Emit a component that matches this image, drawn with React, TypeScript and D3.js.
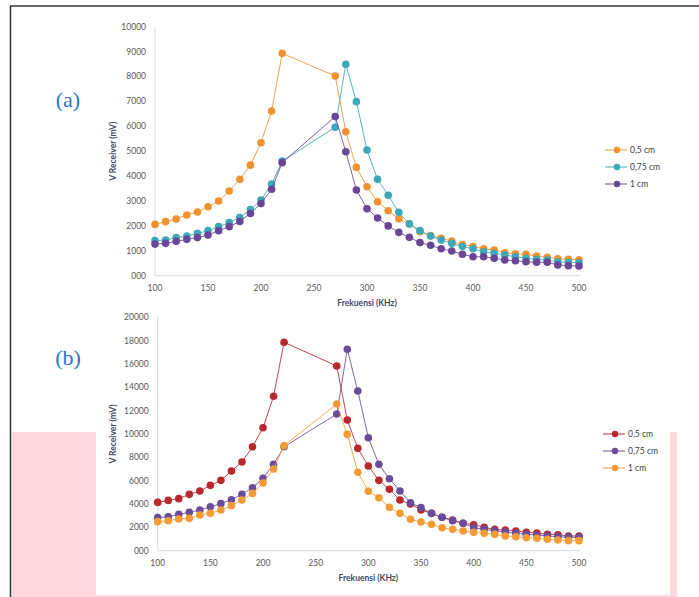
import React from "react";
import * as d3 from "d3";

const freq = [100, 110, 120, 130, 140, 150, 160, 170, 180, 190, 200, 210, 220, 270, 280, 290, 300, 310, 320, 330, 340, 350, 360, 370, 380, 390, 400, 410, 420, 430, 440, 450, 460, 470, 480, 490, 500];

const topSeriesNames = ["0,5 cm", "0,75 cm", "1 cm"];
const topA05 = [2060, 2170, 2280, 2440, 2560, 2770, 3000, 3400, 3870, 4440, 5340, 6610, 8930, 8020, 5780, 4350, 3570, 2970, 2610, 2290, 2080, 1770, 1610, 1500, 1390, 1250, 1170, 1080, 1030, 920, 880, 860, 790, 740, 680, 660, 640];
const topA075 = [1410, 1430, 1530, 1590, 1700, 1810, 1970, 2130, 2340, 2660, 3040, 3680, 4600, 5960, 8490, 6990, 5050, 3870, 3230, 2550, 2080, 1810, 1590, 1430, 1300, 1170, 1080, 960, 900, 830, 760, 700, 660, 630, 560, 540, 520];
const topA1 = [1270, 1300, 1380, 1460, 1530, 1630, 1810, 1970, 2180, 2500, 2900, 3470, 4540, 6390, 4980, 3440, 2690, 2320, 2000, 1740, 1540, 1330, 1220, 1080, 990, 860, 760, 760, 700, 630, 600, 560, 540, 540, 430, 400, 390];

const botSeriesNames = ["0,5 cm", "0,75 cm", "1 cm"];
const botB05 = [4140, 4310, 4460, 4830, 5110, 5600, 6030, 6830, 7600, 8900, 10540, 13230, 17860, 15830, 11200, 8770, 7260, 6030, 5260, 4340, 4000, 3490, 3200, 2860, 2630, 2350, 2230, 2000, 1830, 1770, 1690, 1580, 1520, 1400, 1370, 1260, 1260];
const botB075 = [2830, 2910, 3110, 3290, 3490, 3770, 4030, 4370, 4830, 5400, 6200, 7400, 8910, 11710, 17260, 13680, 9680, 7400, 6170, 5120, 4110, 3690, 3200, 2860, 2570, 2350, 1970, 1830, 1710, 1600, 1490, 1400, 1350, 1260, 1200, 1150, 1150];
const botB1 = [2490, 2570, 2710, 2770, 3060, 3200, 3490, 3860, 4340, 4910, 5800, 7000, 9000, 12570, 9970, 6720, 5090, 4540, 3720, 3200, 2690, 2460, 2260, 1970, 1830, 1690, 1580, 1490, 1400, 1260, 1200, 1110, 1060, 980, 920, 860, 860];

const xTicks = [100, 150, 200, 250, 300, 350, 400, 450, 500];
const topYTicks = [0, 1000, 2000, 3000, 4000, 5000, 6000, 7000, 8000, 9000, 10000];
const botYTicks = [0, 2000, 4000, 6000, 8000, 10000, 12000, 14000, 16000, 18000, 20000];

const topColors = ["#f0932f", "#3ea8b8", "#6a4796"];
const botColors = ["#b8282e", "#6b4c9a", "#f39c35"];

const FONT = "Lato, 'Noto Sans', sans-serif";

function fmtTick(v: number) {
  return v === 0 ? "000" : String(v);
}

type ChartProps = {
  x0: number;
  x1: number;
  yBottom: number;
  yTop: number;
  yMax: number;
  yTicks: number[];
  series: number[][];
  names: string[];
  colors: string[];
  legendX: number;
  legendY: number;
  legendStep: number;
  yTitleX: number;
  xLabelY: number;
  xTitleY: number;
};

function Chart(p: ChartProps) {
  const x = d3.scaleLinear().domain([100, 500]).range([p.x0, p.x1]);
  const y = d3.scaleLinear().domain([0, p.yMax]).range([p.yBottom, p.yTop]);
  const line = d3
    .line<number>()
    .x((_, i) => x(freq[i]))
    .y((d) => y(d));
  return (
    <g>
      <line x1={p.x0} x2={p.x1 + 1} y1={p.yBottom} y2={p.yBottom} stroke="#d5dce6" strokeWidth={1} />
      <line x1={p.x0} x2={p.x0} y1={p.yTop} y2={p.yBottom} stroke="#d5dce6" strokeWidth={1} />
      {p.yTicks.map((t) => (
        <text key={t} x={p.x0 - 9} y={y(t)} dy="0.35em" textAnchor="end" fontSize={8.5} fill="#595959" fontFamily={FONT}>
          {fmtTick(t)}
        </text>
      ))}
      {xTicks.map((t) => (
        <text key={t} x={x(t)} y={p.xLabelY} dy="0.35em" textAnchor="middle" fontSize={8.5} fill="#595959" fontFamily={FONT}>
          {t}
        </text>
      ))}
      <text x={(p.x0 + p.x1) / 2} y={p.xTitleY} dy="0.35em" textAnchor="middle" fontSize={8.5} fontWeight={700} fill="#3f4a63" fontFamily={FONT}>
        Frekuensi (KHz)
      </text>
      <text
        transform={`translate(${p.yTitleX},${(p.yTop + p.yBottom) / 2}) rotate(-90)`}
        dy="0.35em"
        textAnchor="middle"
        fontSize={8.5}
        fontWeight={700}
        fill="#3f4a63"
        fontFamily={FONT}
      >
        V Receiver (mV)
      </text>
      {p.series.map((s, si) => (
        <g key={si}>
          <path d={line(s) || ""} fill="none" stroke={p.colors[si]} strokeWidth={1} strokeOpacity={0.85} />
          {s.map((v, i) => (
            <circle key={i} cx={x(freq[i])} cy={y(v)} r={3.8} fill={p.colors[si]} />
          ))}
        </g>
      ))}
      {p.names.map((n, i) => {
        const ly = p.legendY + i * p.legendStep;
        return (
          <g key={n}>
            <line x1={p.legendX} x2={p.legendX + 22} y1={ly} y2={ly} stroke={p.colors[i]} strokeWidth={1} />
            <circle cx={p.legendX + 12} cy={ly} r={3.2} fill={p.colors[i]} />
            <text x={p.legendX + 25} y={ly} dy="0.35em" fontSize={8.5} fill="#404040" fontFamily={FONT}>
              {n}
            </text>
          </g>
        );
      })}
    </g>
  );
}

export default function App() {
  return (
    <svg width={699} height={597} style={{ position: "absolute", left: 0, top: 0, background: "#ffffff" }}>
      <rect x={0} y={0} width={699} height={597} fill="#ffffff" />
      <rect x={12} y={432} width={665} height={165} fill="#ffd8db" />
      <rect x={96} y={300} width={574} height={295} fill="#ffffff" />
      <line x1={10} x2={699} y1={6} y2={6} stroke="#333" strokeWidth={1.5} />
      <line x1={10.5} x2={10.5} y1={6} y2={597} stroke="#333" strokeWidth={1.5} />
      <text x={68} y={99} dy="0.35em" textAnchor="middle" fontSize={22} fill="#1f78c8" fontFamily="'Liberation Serif', 'DejaVu Serif', serif">
        (a)
      </text>
      <text x={68} y={357} dy="0.35em" textAnchor="middle" fontSize={22} fill="#1f78c8" fontFamily="'Liberation Serif', 'DejaVu Serif', serif">
        (b)
      </text>
      <Chart
        x0={155}
        x1={579}
        yBottom={275.7}
        yTop={26.7}
        yMax={10000}
        yTicks={topYTicks}
        series={[topA05, topA075, topA1]}
        names={topSeriesNames}
        colors={topColors}
        legendX={605}
        legendY={150}
        legendStep={17}
        yTitleX={113}
        xLabelY={288}
        xTitleY={303}
      />
      <Chart
        x0={157.7}
        x1={579}
        yBottom={550.7}
        yTop={317.3}
        yMax={20000}
        yTicks={botYTicks}
        series={[botB05, botB075, botB1]}
        names={botSeriesNames}
        colors={botColors}
        legendX={603}
        legendY={434}
        legendStep={17}
        yTitleX={113}
        xLabelY={563}
        xTitleY={578}
      />
    </svg>
  );
}
